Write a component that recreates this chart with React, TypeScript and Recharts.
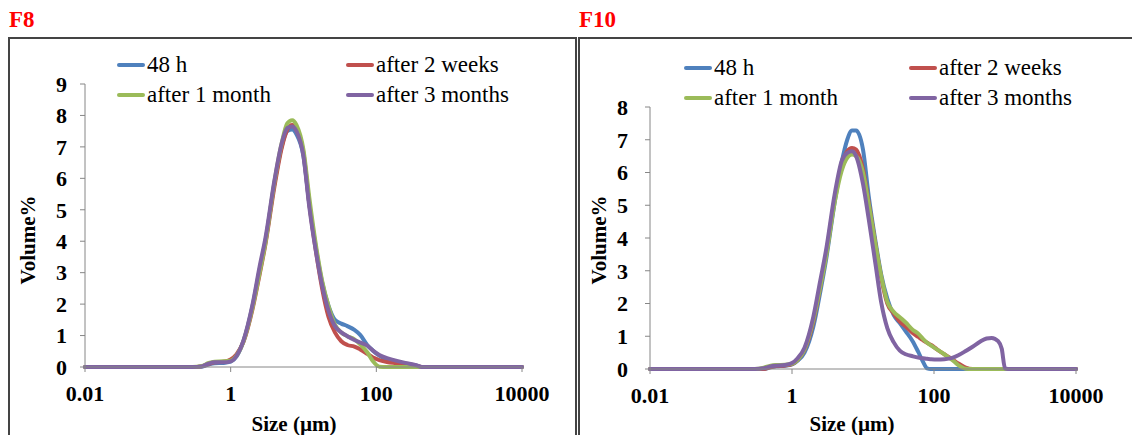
import { LineChart, Line, XAxis, YAxis } from 'recharts';

const FONT = "'Liberation Serif', 'Times New Roman', serif";
const AXIS_GREY = '#868686';

const seriesNames = ['48 h', 'after 2 weeks', 'after 1 month', 'after 3 months'];
const seriesColors = ['#4F81BD', '#C0504D', '#9BBB59', '#8064A2'];
const sizeTicks = [0.01, 1, 100, 10000];

// F8 – size grid (µm) and volume % per series
const f8Sizes = [0.01, 0.3, 0.4, 0.5, 0.6, 0.8, 1, 1.2, 1.5, 2, 2.5, 3, 4, 5, 6, 7, 8, 10, 12, 15, 18, 22, 27, 33, 40, 50, 60, 75, 90, 110, 140, 180, 250, 350, 420, 10000];
const f8H48 = [0, 0, 0.01, 0.08, 0.12, 0.13, 0.17, 0.33, 0.82, 1.95, 3.1, 4.0, 5.85, 7.0, 7.5, 7.55, 7.4, 6.7, 5.2, 3.7, 2.7, 1.95, 1.5, 1.38, 1.3, 1.18, 1.02, 0.7, 0.52, 0.36, 0.23, 0.16, 0.1, 0.05, 0, 0];
const f8Weeks2 = [0, 0, 0.02, 0.1, 0.15, 0.17, 0.24, 0.4, 0.8, 1.85, 2.95, 3.9, 5.75, 6.95, 7.55, 7.7, 7.55, 6.8, 5.2, 3.6, 2.5, 1.6, 1.1, 0.82, 0.7, 0.65, 0.56, 0.42, 0.3, 0.22, 0.16, 0.13, 0.1, 0.04, 0, 0];
const f8Month1 = [0, 0, 0.03, 0.13, 0.17, 0.18, 0.2, 0.36, 0.82, 1.9, 3.0, 3.95, 5.9, 7.1, 7.75, 7.85, 7.7, 6.9, 5.4, 3.8, 2.75, 1.95, 1.35, 1.1, 0.98, 0.88, 0.72, 0.47, 0.18, 0.01, 0, 0, 0, 0, 0, 0];
const f8Months3 = [0, 0, 0.02, 0.11, 0.15, 0.15, 0.18, 0.35, 0.85, 2.0, 3.2, 4.1, 5.95, 7.1, 7.6, 7.65, 7.5, 6.7, 5.1, 3.6, 2.6, 1.8, 1.3, 1.1, 0.98, 0.86, 0.78, 0.68, 0.52, 0.38, 0.28, 0.21, 0.13, 0.06, 0, 0];
const f8VolumeTicks = [0, 1, 2, 3, 4, 5, 6, 7, 8, 9];

// F10
const f10Sizes = [0.01, 0.3, 0.4, 0.5, 0.6, 0.8, 1, 1.2, 1.5, 2, 2.5, 3, 4, 5, 6, 7, 8, 10, 12, 15, 18, 22, 27, 33, 40, 50, 60, 70, 80, 90, 110, 140, 180, 220, 280, 350, 450, 550, 650, 800, 900, 1000, 1100, 10000];
const f10H48 = [0, 0, 0, 0.05, 0.08, 0.1, 0.14, 0.25, 0.5, 1.3, 2.35, 3.3, 5.1, 6.3, 7.0, 7.28, 7.28, 6.7, 5.3, 3.9, 2.9, 2.15, 1.65, 1.4, 1.15, 0.85, 0.52, 0.22, 0.02, 0, 0, 0, 0, 0, 0, 0, 0, 0, 0, 0, 0, 0, 0, 0];
const f10Weeks2 = [0, 0, 0, 0.06, 0.09, 0.11, 0.15, 0.28, 0.58, 1.45, 2.5, 3.45, 5.2, 6.2, 6.65, 6.75, 6.7, 6.1, 5.1, 3.8, 2.8, 2.0, 1.7, 1.45, 1.3, 1.1, 0.98, 0.88, 0.8, 0.74, 0.6, 0.45, 0.3, 0.17, 0.04, 0, 0, 0, 0, 0, 0, 0, 0, 0];
const f10Month1 = [0, 0, 0.04, 0.1, 0.12, 0.13, 0.16, 0.28, 0.6, 1.5, 2.5, 3.4, 5.1, 6.05, 6.45, 6.55, 6.5, 6.0, 5.05, 3.8, 2.85, 2.05, 1.75, 1.58, 1.42, 1.2, 1.08, 0.92, 0.8, 0.72, 0.6, 0.45, 0.28, 0.12, 0.01, 0, 0, 0, 0, 0, 0, 0, 0, 0];
const f10Months3 = [0, 0, 0.02, 0.08, 0.1, 0.12, 0.18, 0.33, 0.65, 1.6, 2.7, 3.6, 5.35, 6.35, 6.6, 6.65, 6.5, 5.65, 4.6, 3.2, 2.05, 1.25, 0.82, 0.56, 0.45, 0.39, 0.35, 0.33, 0.31, 0.3, 0.29, 0.3, 0.34, 0.42, 0.55, 0.68, 0.84, 0.93, 0.95, 0.85, 0.62, 0.02, 0, 0];
const f10VolumeTicks = [0, 1, 2, 3, 4, 5, 6, 7, 8];

interface PanelProps {
  title: string;
  left: number;
  width: number;
  chartWidth: number;
  margin: { top: number; right: number; bottom: number; left: number };
  sizes: number[];
  series: number[][];
  volumeTicks: number[];
  yTickMargin: number;
  legendX: [number, number];
  legendY: [number, number];
  yTitleX: number;
  xTitleX: number;
}

const tickStyle = { fill: '#000', fontSize: 22, fontWeight: 'bold', fontFamily: FONT };

const Panel = ({ title, left, width, chartWidth, margin, sizes, series, volumeTicks, yTickMargin, legendX, legendY, yTitleX, xTitleX }: PanelProps) => {
  const maxVol = volumeTicks[volumeTicks.length - 1];
  return (
    <>
      <div style={{ position: 'absolute', left: left + 1, top: 8, color: '#FF0000', fontFamily: FONT, fontWeight: 'bold', fontSize: 23, lineHeight: '23px' }}>
        {title}
      </div>
      <div
        style={{
          position: 'absolute',
          left,
          top: 37,
          width,
          height: 420,
          boxSizing: 'border-box',
          border: '2px solid #444',
        }}
      >
        <LineChart width={chartWidth} height={396} margin={margin}>
          <XAxis
            type="number"
            dataKey="size"
            scale="log"
            domain={[0.01, 10000]}
            ticks={sizeTicks}
            tickFormatter={(v) => String(v)}
            height={40}
            tick={tickStyle}
            tickSize={5}
            tickMargin={13}
            axisLine={{ stroke: AXIS_GREY }}
            tickLine={{ stroke: AXIS_GREY }}
          />
          <YAxis
            type="number"
            domain={[0, maxVol]}
            ticks={volumeTicks}
            width={60}
            tick={tickStyle}
            tickSize={5}
            tickMargin={yTickMargin}
            axisLine={{ stroke: AXIS_GREY }}
            tickLine={{ stroke: AXIS_GREY }}
          />
          {series.map((vals, i) => (
            <Line
              key={seriesNames[i]}
              data={sizes.map((s, j) => ({ size: s, vol: vals[j] }))}
              dataKey="vol"
              name={seriesNames[i]}
              type="monotone"
              stroke={seriesColors[i]}
              strokeWidth={4}
              strokeLinecap="round"
              strokeLinejoin="round"
              dot={false}
              activeDot={false}
              isAnimationActive={false}
            />
          ))}
        </LineChart>
      </div>
      {seriesNames.map((name, i) => {
        const x = legendX[i % 2];
        const y = legendY[Math.floor(i / 2)];
        return (
          <div key={name} style={{ position: 'absolute', left: x, top: y - 12, height: 24, display: 'flex', alignItems: 'center' }}>
            <div style={{ width: 28, height: 4, borderRadius: 2, background: seriesColors[i] }} />
            <span style={{ marginLeft: 2, fontFamily: FONT, fontSize: 23, lineHeight: '24px', color: '#000', whiteSpace: 'nowrap' }}>{name}</span>
          </div>
        );
      })}
      <div
        style={{
          position: 'absolute',
          left: yTitleX,
          top: 240,
          transform: 'translate(-50%, -50%) rotate(-90deg)',
          fontFamily: FONT,
          fontWeight: 'bold',
          fontSize: 21,
          whiteSpace: 'nowrap',
          color: '#000',
        }}
      >
        Volume%
      </div>
      <div
        style={{
          position: 'absolute',
          left: xTitleX,
          top: 424,
          transform: 'translate(-50%, -50%)',
          fontFamily: FONT,
          fontWeight: 'bold',
          fontSize: 21,
          whiteSpace: 'nowrap',
          color: '#000',
        }}
      >
        Size (µm)
      </div>
    </>
  );
};

const App = () => {
  return (
    <div style={{ position: 'absolute', left: 0, top: 0, width: 1132, height: 435, overflow: 'hidden', background: '#fff' }}>
      <Panel
        title="F8"
        left={8}
        width={569}
        chartWidth={565}
        margin={{ top: 45, right: 53, bottom: 28, left: 15 }}
        sizes={f8Sizes}
        series={[f8H48, f8Weeks2, f8Month1, f8Months3]}
        volumeTicks={f8VolumeTicks}
        yTickMargin={13}
        legendX={[117, 346]}
        legendY={[65, 95]}
        yTitleX={28}
        xTitleX={294}
      />
      <Panel
        title="F10"
        left={578}
        width={600}
        chartWidth={552}
        margin={{ top: 68, right: 56, bottom: 26, left: 10 }}
        sizes={f10Sizes}
        series={[f10H48, f10Weeks2, f10Month1, f10Months3]}
        volumeTicks={f10VolumeTicks}
        yTickMargin={17}
        legendX={[684, 909]}
        legendY={[68, 98]}
        yTitleX={599}
        xTitleX={852}
      />
    </div>
  );
};

export default App;
